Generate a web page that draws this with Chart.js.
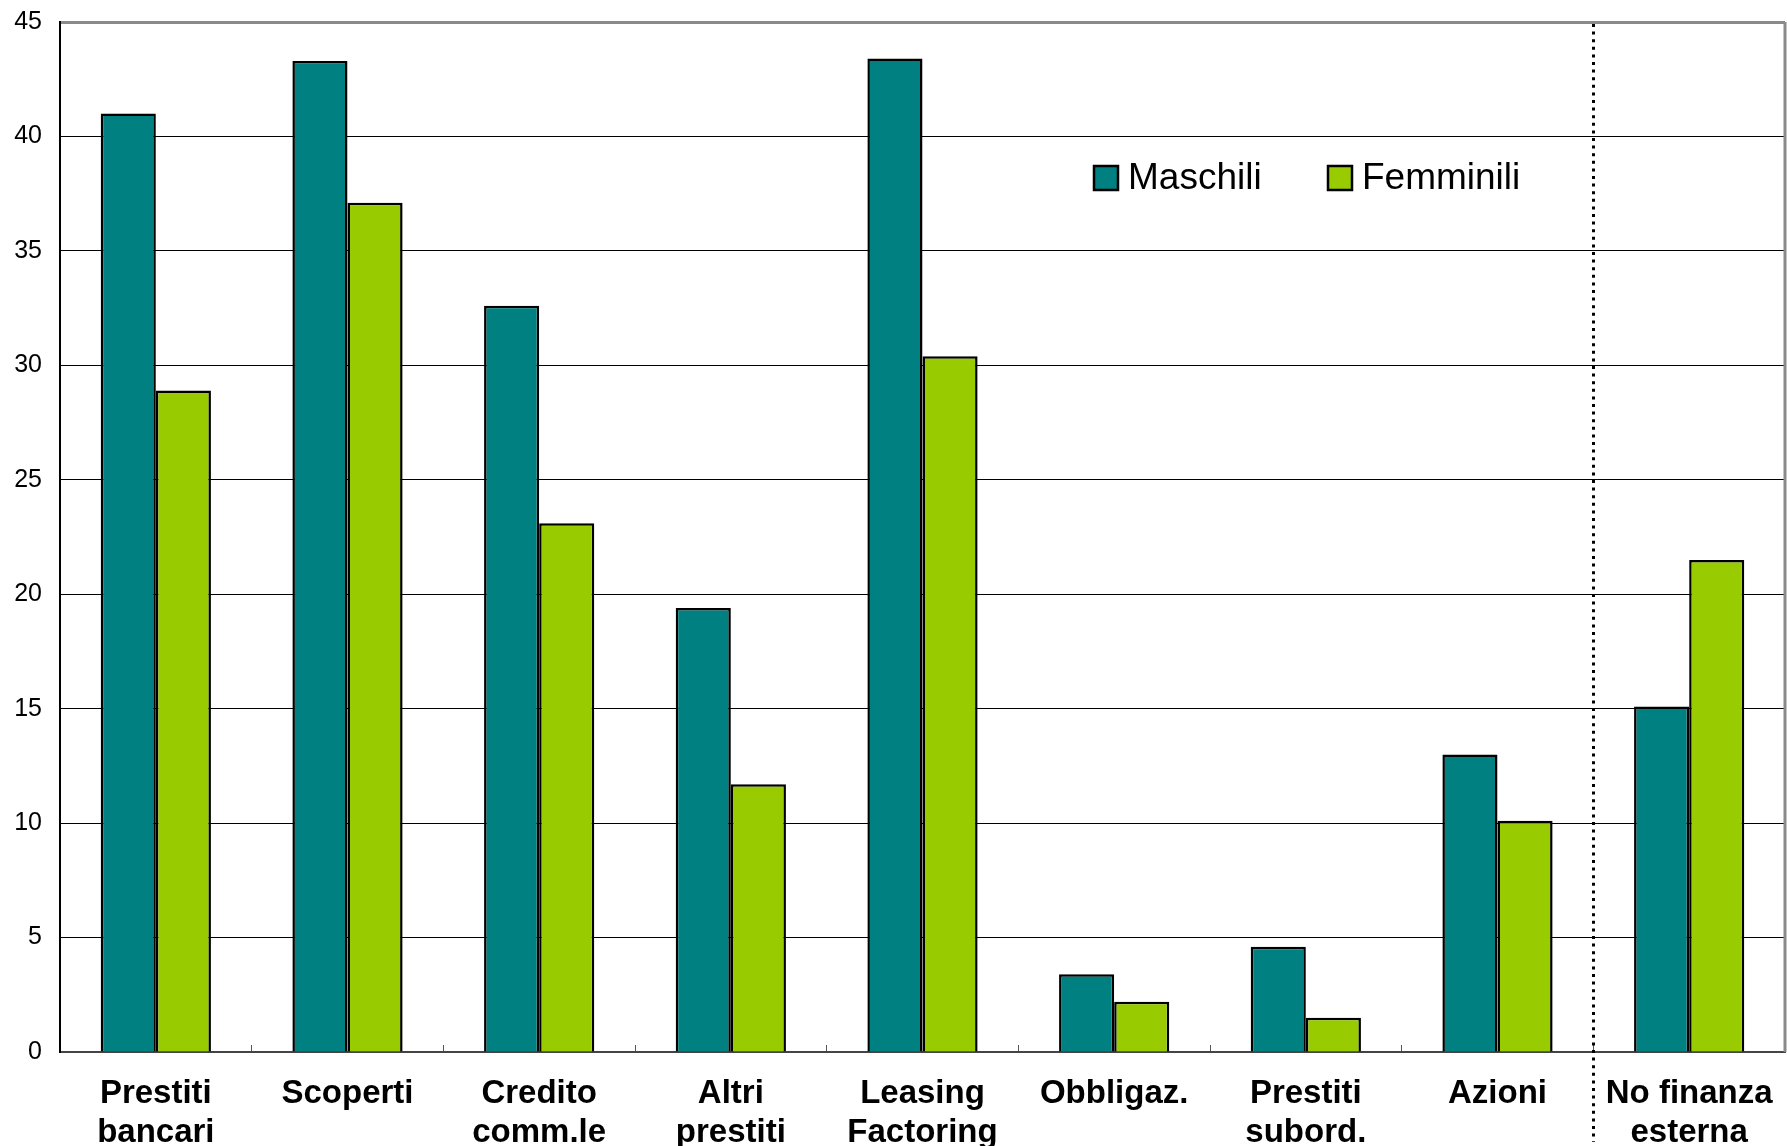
<!DOCTYPE html>
<html>
<head>
<meta charset="utf-8">
<script src="https://cdn.jsdelivr.net/npm/chart.js@4"></script>
<style>
  html, body { margin: 0; padding: 0; background: #fff; }
  #wrap { width: 1787px; height: 1146px; }
</style>
</head>
<body>
<div id="wrap"><canvas id="myChart"></canvas></div>
<script>
const categories = [
  ['Prestiti', 'bancari'],
  'Scoperti',
  ['Credito', 'comm.le'],
  ['Altri', 'prestiti'],
  ['Leasing', 'Factoring'],
  'Obbligaz.',
  ['Prestiti', 'subord.'],
  'Azioni',
  ['No finanza', 'esterna']
];
const maschili = [41.0, 43.3, 32.6, 19.4, 43.4, 3.4, 4.6, 13.0, 15.1];
const femminili = [28.9, 37.1, 23.1, 11.7, 30.4, 2.2, 1.5, 10.1, 21.5];
const yTicks = [0, 5, 10, 15, 20, 25, 30, 35, 40, 45];

const teal = '#008080';
const lime = '#99cc00';

// frame on the right, dotted separator before the last group, legend inside the plot
const extras = {
  id: 'extras',
  afterDraw(chart) {
    const c = chart.ctx;
    const a = chart.chartArea;
    const x = chart.scales.x;

    c.save();
    c.strokeStyle = '#8a8a8a';
    c.lineWidth = 3;
    c.beginPath();
    c.moveTo(a.right, a.top);
    c.lineTo(a.right, a.bottom);
    c.stroke();

    const sep = Math.round(x.getPixelForValue(7.5)) + 0.5;
    c.strokeStyle = '#000';
    c.lineWidth = 3;
    c.setLineDash([3, 4.6]);
    c.beginPath();
    c.moveTo(sep, a.top + 2);
    c.lineTo(sep, chart.height - 4);
    c.stroke();
    c.setLineDash([]);

    const items = [['Maschili', teal, 1034], ['Femminili', lime, 1268]];
    c.font = '37px "Liberation Sans", Arial, sans-serif';
    c.textBaseline = 'middle';
    c.textAlign = 'left';
    items.forEach(([label, col, dx]) => {
      const bx = a.left + dx, by = a.top + 144;
      c.fillStyle = col;
      c.fillRect(bx, by, 24, 24);
      c.strokeStyle = '#000';
      c.lineWidth = 2.5;
      c.strokeRect(bx, by, 24, 24);
      c.fillStyle = '#000';
      c.fillText(label, bx + 34, by + 13);
    });
    c.restore();
  }
};

new Chart(document.getElementById('myChart'), {
  type: 'bar',
  data: {
    labels: categories,
    datasets: [{
      label: 'Maschili',
      data: maschili,
      backgroundColor: teal,
      borderColor: '#000',
      borderWidth: 2.5
    }, {
      label: 'Femminili',
      data: femminili,
      backgroundColor: lime,
      borderColor: '#000',
      borderWidth: 2.5
    }]
  },
  options: {
    responsive: true,
    maintainAspectRatio: false,
    animation: false,
    layout: { padding: { left: 0, right: 2, top: 22, bottom: 0 } },
    plugins: {
      legend: { display: false },
      tooltip: { enabled: false }
    },
    datasets: {
      bar: { categoryPercentage: 0.575, barPercentage: 1 }
    },
    scales: {
      x: {
        offset: true,
        afterFit(scale) {
          scale.height = 94;
          scale.paddingLeft = 0;
          scale.paddingRight = 0;
        },
        grid: {
          offset: true,
          drawOnChartArea: false,
          tickLength: -7,
          tickColor: '#555',
          tickWidth: 1
        },
        border: { color: '#444', width: 2 },
        ticks: {
          color: '#000',
          padding: 29,
          maxRotation: 0,
          autoSkip: false,
          font: { family: '"Liberation Sans", Arial, sans-serif', size: 33, weight: 'bold', lineHeight: 1.2 }
        }
      },
      y: {
        min: 0,
        max: 45,
        afterFit(scale) {
          scale.width = 60;
          scale.paddingTop = 0;
          scale.paddingBottom = 0;
        },
        afterBuildTicks(scale) { scale.ticks = yTicks.map(v => ({ value: v })); },
        grid: {
          drawTicks: false,
          color: ctx => ctx.tick && ctx.tick.value === 45 ? '#8a8a8a' : '#000',
          lineWidth: ctx => ctx.tick && ctx.tick.value === 45 ? 3 : 1
        },
        border: { color: '#000', width: 2 },
        ticks: {
          color: '#000',
          padding: 18,
          font: { family: '"Liberation Sans", Arial, sans-serif', size: 25 }
        }
      }
    }
  },
  plugins: [extras]
});
</script>
</body>
</html>
